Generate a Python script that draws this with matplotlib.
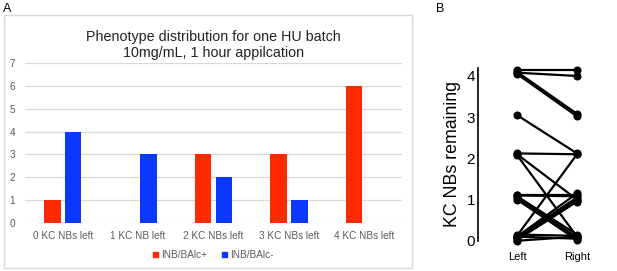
import matplotlib
matplotlib.use('Agg')
import matplotlib.pyplot as plt
from matplotlib.patches import Rectangle, Patch

plt.rcParams['font.family'] = ['Liberation Sans', 'DejaVu Sans']

# panel A data
categories = ['0 KC NBs left', '1 KC NB left', '2 KC NBs left', '3 KC NBs left', '4 KC NBs left']
inb_plus = [1, 0, 3, 3, 6]
inb_minus = [4, 3, 2, 1, 0]
series_names = ['INB/BAlc+', 'INB/BAlc-']

# panel B data (left / right counts per animal, slightly jittered as in the figure)
left_vals = [4.15, 4.08, 4.10, 4.05, 3.05, 2.12, 2.10, 2.08, 1.12, 1.10, 1.05,
             1.00, 1.08, 0.12, 0.10, 0.08, 0.05, 0.02, 0.15, 0.10, 0.00]
right_vals = [4.15, 4.00, 3.08, 3.02, 2.12, 2.10, 1.00, 0.10, 1.12, 1.08, 0.08,
              0.02, 0.15, 2.10, 1.15, 1.05, 1.00, 0.95, 0.12, 0.05, 0.10]
sides = ['Left', 'Right']

W, H = 617, 271
fig = plt.figure(figsize=(W / 100, H / 100), dpi=100)

def fx(px):
    return px / W

def fy(py):
    return 1 - py / H

# panel box for A
fig.patches.append(Rectangle((fx(4), fy(268)), fx(408), (253) / H,
                             transform=fig.transFigure, fill=False,
                             edgecolor='#d9d9d9', linewidth=1.0))
fig.text(fx(3), fy(9), 'A', fontsize=9, va='center', ha='left')
fig.text(fx(436), fy(9), 'B', fontsize=9, va='center', ha='left')

# ---- panel A ----
ax1 = fig.add_axes([fx(25), fy(223), fx(377), 160 / H])
x = list(range(len(categories)))
w = 0.22
ax1.bar([i - 0.138 for i in x], inb_plus, width=w, color='#ff2a00', zorder=3)
ax1.bar([i + 0.138 for i in x], inb_minus, width=w, color='#0a38ff', zorder=3)
ax1.set_xlim(-0.5, 4.5)
ax1.set_ylim(0, 7)
ax1.set_yticks(range(8))
ax1.set_xticks(x)
ax1.set_xticklabels(categories)
ax1.tick_params(length=0, labelsize=7.2, colors='#595959', pad=6)
ax1.tick_params(axis='y', pad=7)
ax1.grid(axis='y', color='#d9d9d9', linewidth=0.9, zorder=0)
for s in ax1.spines.values():
    s.set_visible(False)
ax1.set_title('Phenotype distribution for one HU batch\n10mg/mL, 1 hour appilcation',
              fontsize=10.3, color='#222222', pad=4, linespacing=1.25)
handles = [Patch(color='#ff2a00'), Patch(color='#0a38ff')]
ax1.legend(handles, series_names, loc='center', bbox_to_anchor=(0.5, -0.2),
           ncol=2, frameon=False, fontsize=7.2, handlelength=0.5, handleheight=0.5,
           handletextpad=0.3, columnspacing=1.5, labelcolor='#595959')

# ---- panel B ----
ax2 = fig.add_axes([fx(478), fy(249), fx(122), (249 - 59.5) / H])
for l, r in zip(left_vals, right_vals):
    ax2.plot([0, 1], [l, r], color='black', linewidth=1.6,
             marker='o', markersize=4.8, solid_capstyle='round')
ax2.set_xlim(-0.65, 1.383)
ax2.set_ylim(-0.2, 4.4)
ax2.set_yticks(range(5))
ax2.set_xticks([0, 1])
ax2.set_xticklabels(sides, fontsize=8)
ax2.tick_params(axis='y', length=0, labelsize=11, pad=2)
ax2.tick_params(axis='x', length=0, pad=2)
for k in ['top', 'right', 'bottom']:
    ax2.spines[k].set_visible(False)
ax2.spines['left'].set_bounds(0, 4.2)
ax2.spines['left'].set_linewidth(1.2)
ax2.set_ylabel('KC NBs remaining', fontsize=12.8, labelpad=4)
ax2.patch.set_visible(False)

fig.savefig('out.png', dpi=100)
